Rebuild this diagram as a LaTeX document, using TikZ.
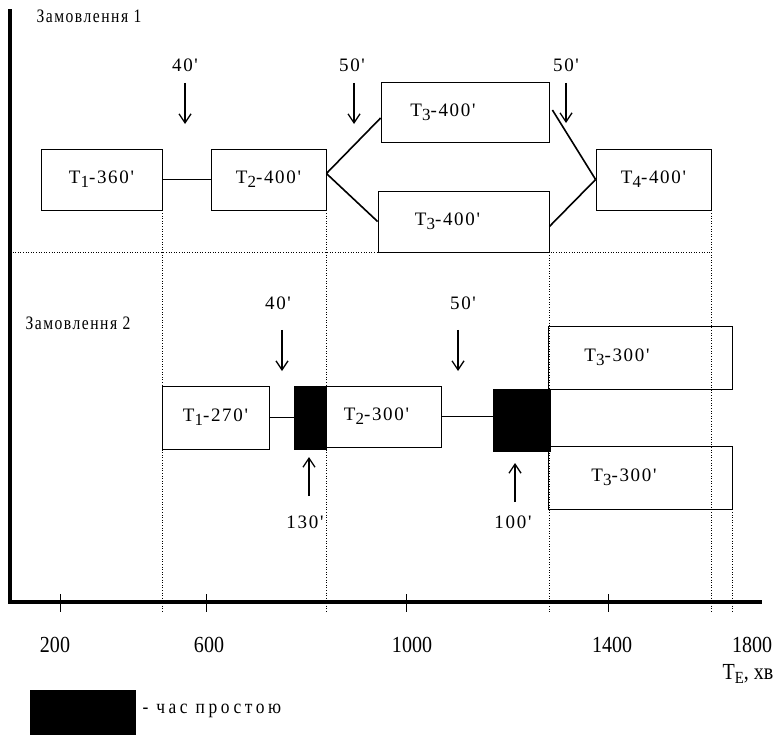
\documentclass[tikz,border=0pt]{standalone}
\usepackage{fontspec}
\setmainfont{Liberation Serif}[Ligatures=TeXOff, LetterSpace=9]
\newfontfamily\narrowfont{Liberation Serif}[Ligatures=TeXOff, FakeStretch=0.82]
\newfontfamily\scalefont{Liberation Serif}[Ligatures=TeXOff, FakeStretch=0.87]
\usetikzlibrary{arrows.meta}

\newcommand{\ix}[1]{\raisebox{-4pt}{\fontsize{17}{17}\selectfont #1}}
\newcommand{\axisfont}{\scalefont\fontsize{23}{26}\selectfont}
\newcommand{\titlefont}{\narrowfont\fontsize{19}{22}\selectfont\addfontfeature{LetterSpace=8}}
\newcommand{\keyfont}{\scalefont\fontsize{20}{23}\selectfont\addfontfeature{LetterSpace=18}}

\begin{document}
\begin{tikzpicture}[x=1pt,y=-1pt,font=\fontsize{19}{22}\selectfont]

\tikzstyle{opbox} = [draw, line width=0.8pt, inner sep=0, minimum height=61pt]
\tikzstyle{idle} = [draw, fill=black, line width=0.8pt, inner sep=0]
\tikzstyle{grid} = [dotted, line width=0.6pt]
\tikzstyle{axisline} = [line width=4pt]
\tikzstyle{delay} = [line width=1.3pt, -{Straight Barb[length=9pt,width=12pt]}]
\tikzstyle{link} = [line width=0.8pt]
\tikzstyle{branch} = [line width=1.6pt]

\useasboundingbox (0,0) rectangle (783,734);

% =========================
% axes
% =========================
\coordinate (ytop) at (10,9);
\coordinate (o) at (10,602);
\coordinate (xend) at (762,602);
\coordinate (base) at (0,612);
\draw[axisline] (ytop) -- (o) -- (xend);

\foreach \x in {60, 206, 406, 608}
    \draw[link] (\x,594) -- (\x,612);
\foreach \x/\t in {55/200, 209/600, 412/1000, 612/1400, 752/1800}
    \node[font=\axisfont] at (\x,645) {\t};
\node[font=\axisfont] (unit) at (748,674) {T\ix{E}, хв};

% =========================
% order 1
% =========================
\node[anchor=west, font=\titlefont] (ord1) at (33,16) {Замовлення 1};

\node[opbox, minimum width=121pt] (t11) at (101.5,179.5) {T\ix{1}-360'};
\node[opbox, minimum width=115pt] (t12) at (268.5,179.5) {T\ix{2}-400'};
\node[opbox, minimum width=168pt, minimum height=60pt,
    label={[xshift=-22pt]center:T\ix{3}-400'}] (t13a) at (465,112) {};
\node[opbox, minimum width=171pt,
    label={[xshift=-16pt]center:T\ix{3}-400'}] (t13b) at (463.5,221.5) {};
\node[opbox, minimum width=115pt] (t14) at (653.5,179.5) {T\ix{4}-400'};

\draw[link] (t11) -- (t12);
\draw[branch] ([yshift=6pt]t12.east) -- ([yshift=-6pt]t13a.west);
\draw[branch] ([yshift=6pt]t12.east) -- (t13b.west);
\draw[branch] ([xshift=3pt,yshift=2pt]t13a.east) -- (t14.west);
\draw[branch] ([yshift=-5pt]t13b.east) -- (t14.west);

% transport delays
\node (d11) at (185,65) {40'};
\node (d12) at (352,65) {50'};
\node (d13) at (566,65) {50'};
\coordinate (d11e) at (185,124);
\coordinate (d12e) at (354,124);
\coordinate (d13e) at (566,123);
\draw[delay, shorten <=8pt] (d11e |- d11.south) -- (d11e);
\draw[delay, shorten <=8pt] (d12e |- d12.south) -- (d12e);
\draw[delay, shorten <=8pt] (d13e |- d13.south) -- (d13e);

% =========================
% order 2
% =========================
\node[anchor=west, font=\titlefont] (ord2) at (22,323) {Замовлення 2};

\node[opbox, minimum width=107pt, minimum height=63pt] (t21) at (215.5,417.5) {T\ix{1}-270'};
\node[idle, minimum width=32pt, minimum height=63pt] (idle1) at (310,417.5) {};
\node[opbox, minimum width=115pt,
    label={[xshift=-7pt]center:T\ix{2}-300'}] (t22) at (383.5,416.5) {};
\node[idle, minimum width=57pt, minimum height=62pt] (idle2) at (521.5,420) {};
\node[opbox, minimum width=184pt, minimum height=63pt,
    label={[xshift=-23pt]center:T\ix{3}-300'}] (t23a) at (640,357.5) {};
\node[opbox, minimum width=184pt, minimum height=63pt,
    label={[xshift=-16pt]center:T\ix{3}-300'}] (t23b) at (640,477.5) {};

\draw[link] (t21) -- (idle1);
\draw[link] (t22.east) -- (t22.east -| idle2.west);

% transport delays and idle times
\node (d21) at (278,303) {40'};
\node (d22) at (463,303) {50'};
\coordinate (d21e) at (282,371);
\coordinate (d22e) at (458,371);
\draw[delay, shorten <=17pt] (d21e |- d21.south) -- (d21e);
\draw[delay, shorten <=17pt] (d22e |- d22.south) -- (d22e);

\node (g1) at (305,522) {130'};
\node (g2) at (513,522) {100'};
\coordinate (g1e) at (309,457);
\coordinate (g2e) at (515,463);
\draw[delay, shorten <=16pt] (g1e |- g1.north) -- (g1e);
\draw[delay, shorten <=10pt] (g2e |- g2.north) -- (g2e);

% =========================
% dotted guides
% =========================
\draw[grid] (o |- t13b.south) -- (t14.south east |- t13b.south);
\draw[grid] (t11.south east) -- (t11.south east |- base);
\draw[grid] (t12.south east) -- (t12.south east |- base);
\draw[grid] (t13b.south east) -- (t13b.south east |- base);
\draw[grid] (t14.south east) -- (t14.south east |- base);
\draw[grid] (t23b.south east) -- (t23b.south east |- base);

% =========================
% legend
% =========================
\node[idle, minimum width=105pt, minimum height=44pt] (key) at (82.5,712) {};
\node[anchor=west, font=\keyfont] (keytext) at (139,711) {- час простою};

\end{tikzpicture}
\end{document}
